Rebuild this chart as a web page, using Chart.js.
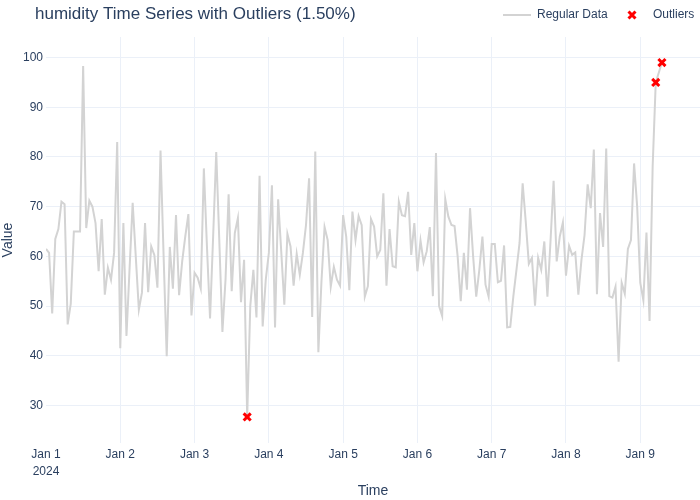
<!DOCTYPE html>
<html>
<head>
<meta charset="utf-8">
<script src="https://cdn.jsdelivr.net/npm/chart.js@4.4.1/dist/chart.umd.min.js"></script>
<style>
  html, body { margin: 0; padding: 0; background: #fff; }
  #wrap { width: 700px; height: 500px; }
</style>
</head>
<body>
<div id="wrap"><canvas id="chart" width="700" height="500"></canvas></div>
<script>
// hourly readings, starting Jan 1 2024 00:00
const humidity = [
  61.5, 60.7, 48.5, 63.5, 65.5, 71.0, 70.5, 46.3, 50.5, 65.0, 65.0, 65.0,
  98.3, 65.7, 71.2, 70.0, 66.7, 57.0, 67.5, 52.3, 57.7, 55.3, 60.7, 83.0,
  41.5, 66.7, 44.0, 57.5, 70.8, 60.0, 49.3, 52.7, 66.7, 52.8, 62.0, 60.3,
  53.7, 81.3, 60.0, 39.9, 61.9, 53.5, 68.3, 52.2, 59.0, 64.0, 68.5, 48.1,
  56.7, 55.7, 53.5, 77.7, 62.0, 47.5, 64.0, 81.0, 63.0, 44.8, 55.3, 72.5,
  53.0, 64.7, 67.7, 50.8, 59.3, 27.7, 50.0, 57.3, 47.7, 76.2, 45.9, 55.3,
  60.7, 74.3, 45.7, 71.5, 61.0, 50.3, 64.5, 62.0, 54.1, 60.5, 56.3, 60.7,
  66.3, 75.7, 47.8, 81.1, 40.7, 55.0, 65.9, 63.3, 53.9, 57.9, 55.3, 54.1,
  68.3, 64.0, 53.2, 69.0, 63.3, 68.1, 66.3, 51.9, 54.0, 67.5, 66.0, 60.0,
  61.3, 72.7, 54.1, 65.5, 58.0, 57.8, 71.0, 68.3, 68.1, 73.0, 60.3, 66.7,
  57.0, 63.2, 58.8, 61.0, 65.9, 52.0, 80.8, 50.0, 48.0, 71.5, 68.0, 66.3,
  66.1, 60.0, 51.0, 60.7, 53.3, 69.7, 60.0, 51.9, 57.3, 64.0, 54.3, 51.9,
  62.5, 62.5, 54.8, 55.1, 62.2, 45.7, 45.8, 52.0, 57.3, 62.7, 74.7, 67.0,
  58.5, 59.7, 50.1, 59.7, 57.3, 63.0, 51.9, 63.0, 75.2, 59.0, 64.0, 66.8,
  56.1, 62.1, 60.3, 60.8, 52.3, 59.3, 64.3, 74.5, 69.7, 81.5, 52.4, 68.7,
  61.9, 81.7, 52.0, 51.7, 53.9, 38.8, 54.7, 52.5, 61.5, 63.3, 78.7, 70.0,
  54.7, 51.2, 64.8, 47.0, 78.0, 95.0, 97.0, 99.0
];

// hours (from Jan 1 00:00) flagged as outliers
const outlierHours = [65, 197, 199];

const xTickHours = [0, 24, 48, 72, 96, 120, 144, 168, 192];
const xTickLabels = [['Jan 1', '2024'], 'Jan 2', 'Jan 3', 'Jan 4', 'Jan 5', 'Jan 6', 'Jan 7', 'Jan 8', 'Jan 9'];
const yTicks = [30, 40, 50, 60, 70, 80, 90, 100];

const titleText = 'humidity Time Series with Outliers (1.50%)';
const fontFamily = '"Liberation Sans", Arial, sans-serif';
const textColor = '#2a3f5f';
const gridColor = '#EBF0F8';
const lineColor = '#d3d3d3';

const linePoints = humidity.map((v, i) => ({ x: i, y: v }));
const outlierPoints = outlierHours.map(h => ({ x: h, y: humidity[h] }));

// title + legend on one row, like the original
const headerPlugin = {
  id: 'header',
  afterDraw(chart) {
    const ctx = chart.ctx;
    ctx.save();
    ctx.fillStyle = textColor;
    ctx.textBaseline = 'middle';
    ctx.font = '17px ' + fontFamily;
    ctx.fillText(titleText, 35, 14);

    ctx.strokeStyle = lineColor;
    ctx.lineWidth = 2;
    ctx.beginPath();
    ctx.moveTo(503, 15);
    ctx.lineTo(531, 15);
    ctx.stroke();
    ctx.font = '12px ' + fontFamily;
    ctx.fillText('Regular Data', 537, 15);

    ctx.strokeStyle = 'red';
    ctx.lineWidth = 3;
    ctx.beginPath();
    ctx.moveTo(628.5, 11.5); ctx.lineTo(635.5, 18.5);
    ctx.moveTo(635.5, 11.5); ctx.lineTo(628.5, 18.5);
    ctx.stroke();
    ctx.fillText('Outliers', 653, 15);
    ctx.restore();
  }
};

new Chart(document.getElementById('chart'), {
  type: 'line',
  data: {
    datasets: [
      {
        label: 'Outliers',
        data: outlierPoints,
        showLine: false,
        pointStyle: 'crossRot',
        pointRadius: 5,
        borderWidth: 3,
        borderColor: 'red',
        backgroundColor: 'red',
        order: 0
      },
      {
        label: 'Regular Data',
        data: linePoints,
        borderColor: lineColor,
        borderWidth: 2,
        pointRadius: 0,
        tension: 0,
        fill: false,
        order: 1
      }
    ]
  },
  options: {
    responsive: false,
    animation: false,
    layout: { autoPadding: false, padding: { left: 0, right: 0, top: 37, bottom: 0 } },
    plugins: {
      legend: { display: false },
      title: { display: false },
      tooltip: { enabled: false }
    },
    scales: {
      x: {
        type: 'linear',
        min: 0,
        max: 211.3,
        afterBuildTicks: ax => { ax.ticks = xTickHours.map(v => ({ value: v })); },
        afterFit: ax => { ax.height = 57; ax.paddingRight = 0; },
        ticks: {
          callback: (v, i) => xTickLabels[i],
          color: textColor,
          font: { size: 12, family: fontFamily, lineHeight: 1.35 },
          padding: 4,
          maxRotation: 0,
          autoSkip: false
        },
        grid: {
          color: ctx => (ctx.tick && ctx.tick.value === 0) ? 'rgba(0,0,0,0)' : gridColor,
          drawTicks: false
        },
        border: { display: false },
        title: {
          display: true,
          text: 'Time',
          color: textColor,
          font: { size: 14, family: fontFamily },
          padding: { top: 0, bottom: 0 }
        }
      },
      y: {
        min: 22.45,
        max: 104.14,
        afterBuildTicks: ax => { ax.ticks = yTicks.map(v => ({ value: v })); },
        afterFit: ax => { ax.width = 46; },
        ticks: {
          color: textColor,
          font: { size: 12, family: fontFamily },
          padding: 3
        },
        grid: { color: gridColor, drawTicks: false },
        border: { display: false },
        title: {
          display: true,
          text: 'Value',
          color: textColor,
          font: { size: 14, family: fontFamily },
          padding: { top: 0, bottom: 0 }
        }
      }
    }
  },
  plugins: [headerPlugin]
});
</script>
</body>
</html>
